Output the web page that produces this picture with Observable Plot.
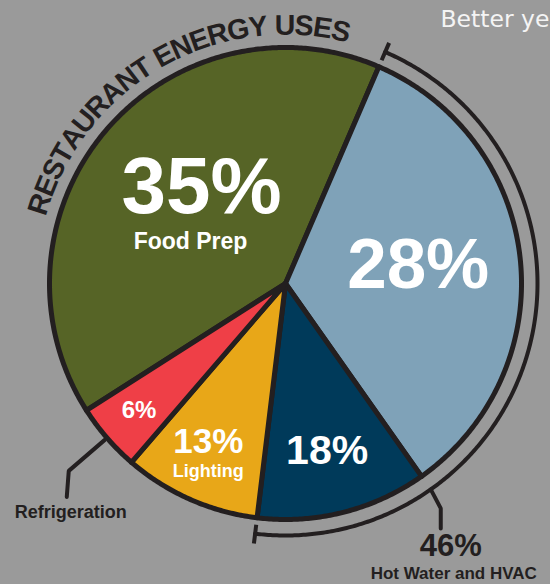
<!DOCTYPE html>
<html><head><meta charset="utf-8">
<script src="https://cdn.jsdelivr.net/npm/d3@7"></script>
<script src="https://cdn.jsdelivr.net/npm/@observablehq/plot@0.6"></script>
<style>html,body{margin:0;padding:0;background:#9a9a9a;overflow:hidden}#chart svg{display:block}</style>
</head><body><div id="chart"></div>
<script>
// ---------- data ----------
const title = "RESTAURANT ENERGY USES";
const categories = ["Food Prep", "Hot Water and HVAC (part 1)", "Hot Water and HVAC (part 2)", "Lighting", "Refrigeration"];
const values = [35, 28, 18, 13, 6];
const valueLabels = ["35%", "28%", "18%", "13%", "6%"];
const insideNames = ["Food Prep", "", "", "Lighting", ""];
// angular size of each slice as drawn in the picture (% of the circle)
const drawnShare = [40.5, 33.75, 11.7, 9.4, 4.65];
const colors = ["#566426", "#7fa2b8", "#003a5a", "#e8a718", "#ef3f47"];
const groupValue = "46%";
const groupName = "Hot Water and HVAC";
const outsideName = "Refrigeration";
const cornerText = "Better ye";

// ---------- layout ----------
const W = 550, H = 584;
const cx = 285, cy = 283, R = 236, startAngle = 237.5;
const ink = "#231f20";
const font = "'Liberation Sans', Arial, Helvetica, sans-serif";
const labelPolar = [[319, 128], [82, 134], [166, 172], [206, 176], [229, 194]];
const labelSize = [80, 71, 41, 35, 24];

function polar(a, r) { const t = a * Math.PI / 180; return {x: cx + r * Math.sin(t), y: cy - r * Math.cos(t)}; }
function arc(a0, a1, r) {
  const n = Math.max(2, Math.ceil(Math.abs(a1 - a0) / 0.5));
  return d3.range(n + 1).map(k => polar(a0 + (a1 - a0) * k / n, r));
}

let acc = startAngle;
const slices = drawnShare.map((s, i) => { const a0 = acc, a1 = acc + s * 3.6; acc = a1; return {i, a0, a1, mid: (a0 + a1) / 2}; });
const slicePts = slices.map(s => [{x: cx, y: cy}, ...arc(s.a0, s.a1, R), {x: cx, y: cy}]);

// bracket for Hot Water and HVAC
const rb = 252;
const bA0 = slices[1].a0, bA1 = slices[2].a1;
const bracket = arc(bA0, bA1, rb);
const ticks = [bA0, bA1].map(a => { const p = polar(a, 243), q = polar(a, 262); return {x1: p.x, y1: p.y, x2: q.x, y2: q.y}; });
const g0 = polar(slices[1].a1, rb);
const g1 = {x: g0.x + 10, y: g0.y + 19};
const g2 = {x: g1.x, y: g1.y + 20};
const leaderGroup = [g0, g1, g2];
const r0 = polar(slices[4].mid, R + 3);
const r1 = {x: r0.x - 36, y: r0.y + 31};
const r2 = {x: r1.x - 2, y: r1.y + 26};
const leaderRef = [r0, r1, r2];

// inside labels
const inside = valueLabels.map((t, i) => { const p = polar(labelPolar[i][0], labelPolar[i][1]); return {t, x: p.x, y: p.y, fs: labelSize[i]}; });
const subs = [
  {t: insideNames[0], x: inside[0].x - 11, base: inside[0].y + 0.32 * labelSize[0] + 36, fs: 23},
  {t: insideNames[3], x: inside[3].x, base: inside[3].y + 0.32 * labelSize[3] + 24, fs: 18}
];

// curved title
const tfs = 28.5, tr = 258, tA0 = -72.1, tA1 = 12.4;
const ctx = document.createElement("canvas").getContext("2d");
ctx.font = `bold ${tfs}px 'Liberation Sans'`;
const chars = Array.from(title);
const widths = chars.map(c => ctx.measureText(c).width);
const n = chars.length;
const arcLen = (tA1 - tA0) * Math.PI / 180 * tr;
const base = d3.sum(widths) - widths[0] / 2 - widths[n - 1] / 2;
const sp = (arcLen - base) / (n - 1);
let off = 0;
const titleChars = chars.map((c, i) => {
  if (i > 0) off += widths[i - 1] / 2 + sp + widths[i] / 2;
  const a = tA0 + off / tr * 180 / Math.PI;
  const p = polar(a, tr);
  return {c, x: p.x, y: p.y, rot: a};
});

const textBase = (arr, fs, opts = {}) => Plot.text(arr, {x: "x", y: d => d.base - 0.32 * fs, text: "t", fontSize: fs, fontWeight: "bold", fontFamily: font, textAnchor: "middle", lineAnchor: "middle", ...opts});

const plot = Plot.plot({
  width: W, height: H, margin: 0,
  x: {domain: [0, W], range: [0, W], axis: null},
  y: {domain: [0, H], range: [0, H], axis: null},
  style: {background: "#9a9a9a", overflow: "hidden"},
  marks: [
    ...slicePts.map((pts, i) => Plot.line(pts, {x: "x", y: "y", fill: colors[i], stroke: ink, strokeWidth: 5, strokeLinejoin: "round"})),
    Plot.line(bracket, {x: "x", y: "y", stroke: ink, strokeWidth: 4}),
    Plot.link(ticks, {x1: "x1", y1: "y1", x2: "x2", y2: "y2", stroke: ink, strokeWidth: 4}),
    Plot.line(leaderGroup, {x: "x", y: "y", stroke: ink, strokeWidth: 4, strokeLinejoin: "miter"}),
    Plot.line(leaderRef, {x: "x", y: "y", stroke: ink, strokeWidth: 4, strokeLinejoin: "miter"}),
    Plot.text(titleChars, {x: "x", y: "y", text: "c", rotate: "rot", fontSize: tfs, fontWeight: "bold", fontFamily: font, fill: ink, textAnchor: "middle", lineAnchor: "middle"}),
    Plot.text(inside, {x: "x", y: "y", text: "t", fontSize: "fs", fontWeight: "bold", fontFamily: font, fill: "white", textAnchor: "middle", lineAnchor: "middle"}),
    textBase([subs[0]], 23, {fill: "white"}),
    textBase([subs[1]], 18, {fill: "white"}),
    textBase([{t: groupValue, x: g2.x + 10, base: g2.y + 28}], 31, {fill: ink}),
    textBase([{t: groupName, x: g2.x + 13, base: g2.y + 51}], 17, {fill: ink}),
    textBase([{t: outsideName, x: r2.x + 4, base: r2.y + 21}], 18, {fill: ink}),
    Plot.text([{t: cornerText, x: 440, base: 26}], {x: "x", y: d => d.base - 0.32 * 23.5, text: "t", fontSize: 23.5, fontWeight: "normal", fontFamily: "'DejaVu Sans', sans-serif", fill: "#f4f4f4", textAnchor: "start", lineAnchor: "middle"})
  ]
});
document.getElementById("chart").append(plot);
</script>
</body></html>
